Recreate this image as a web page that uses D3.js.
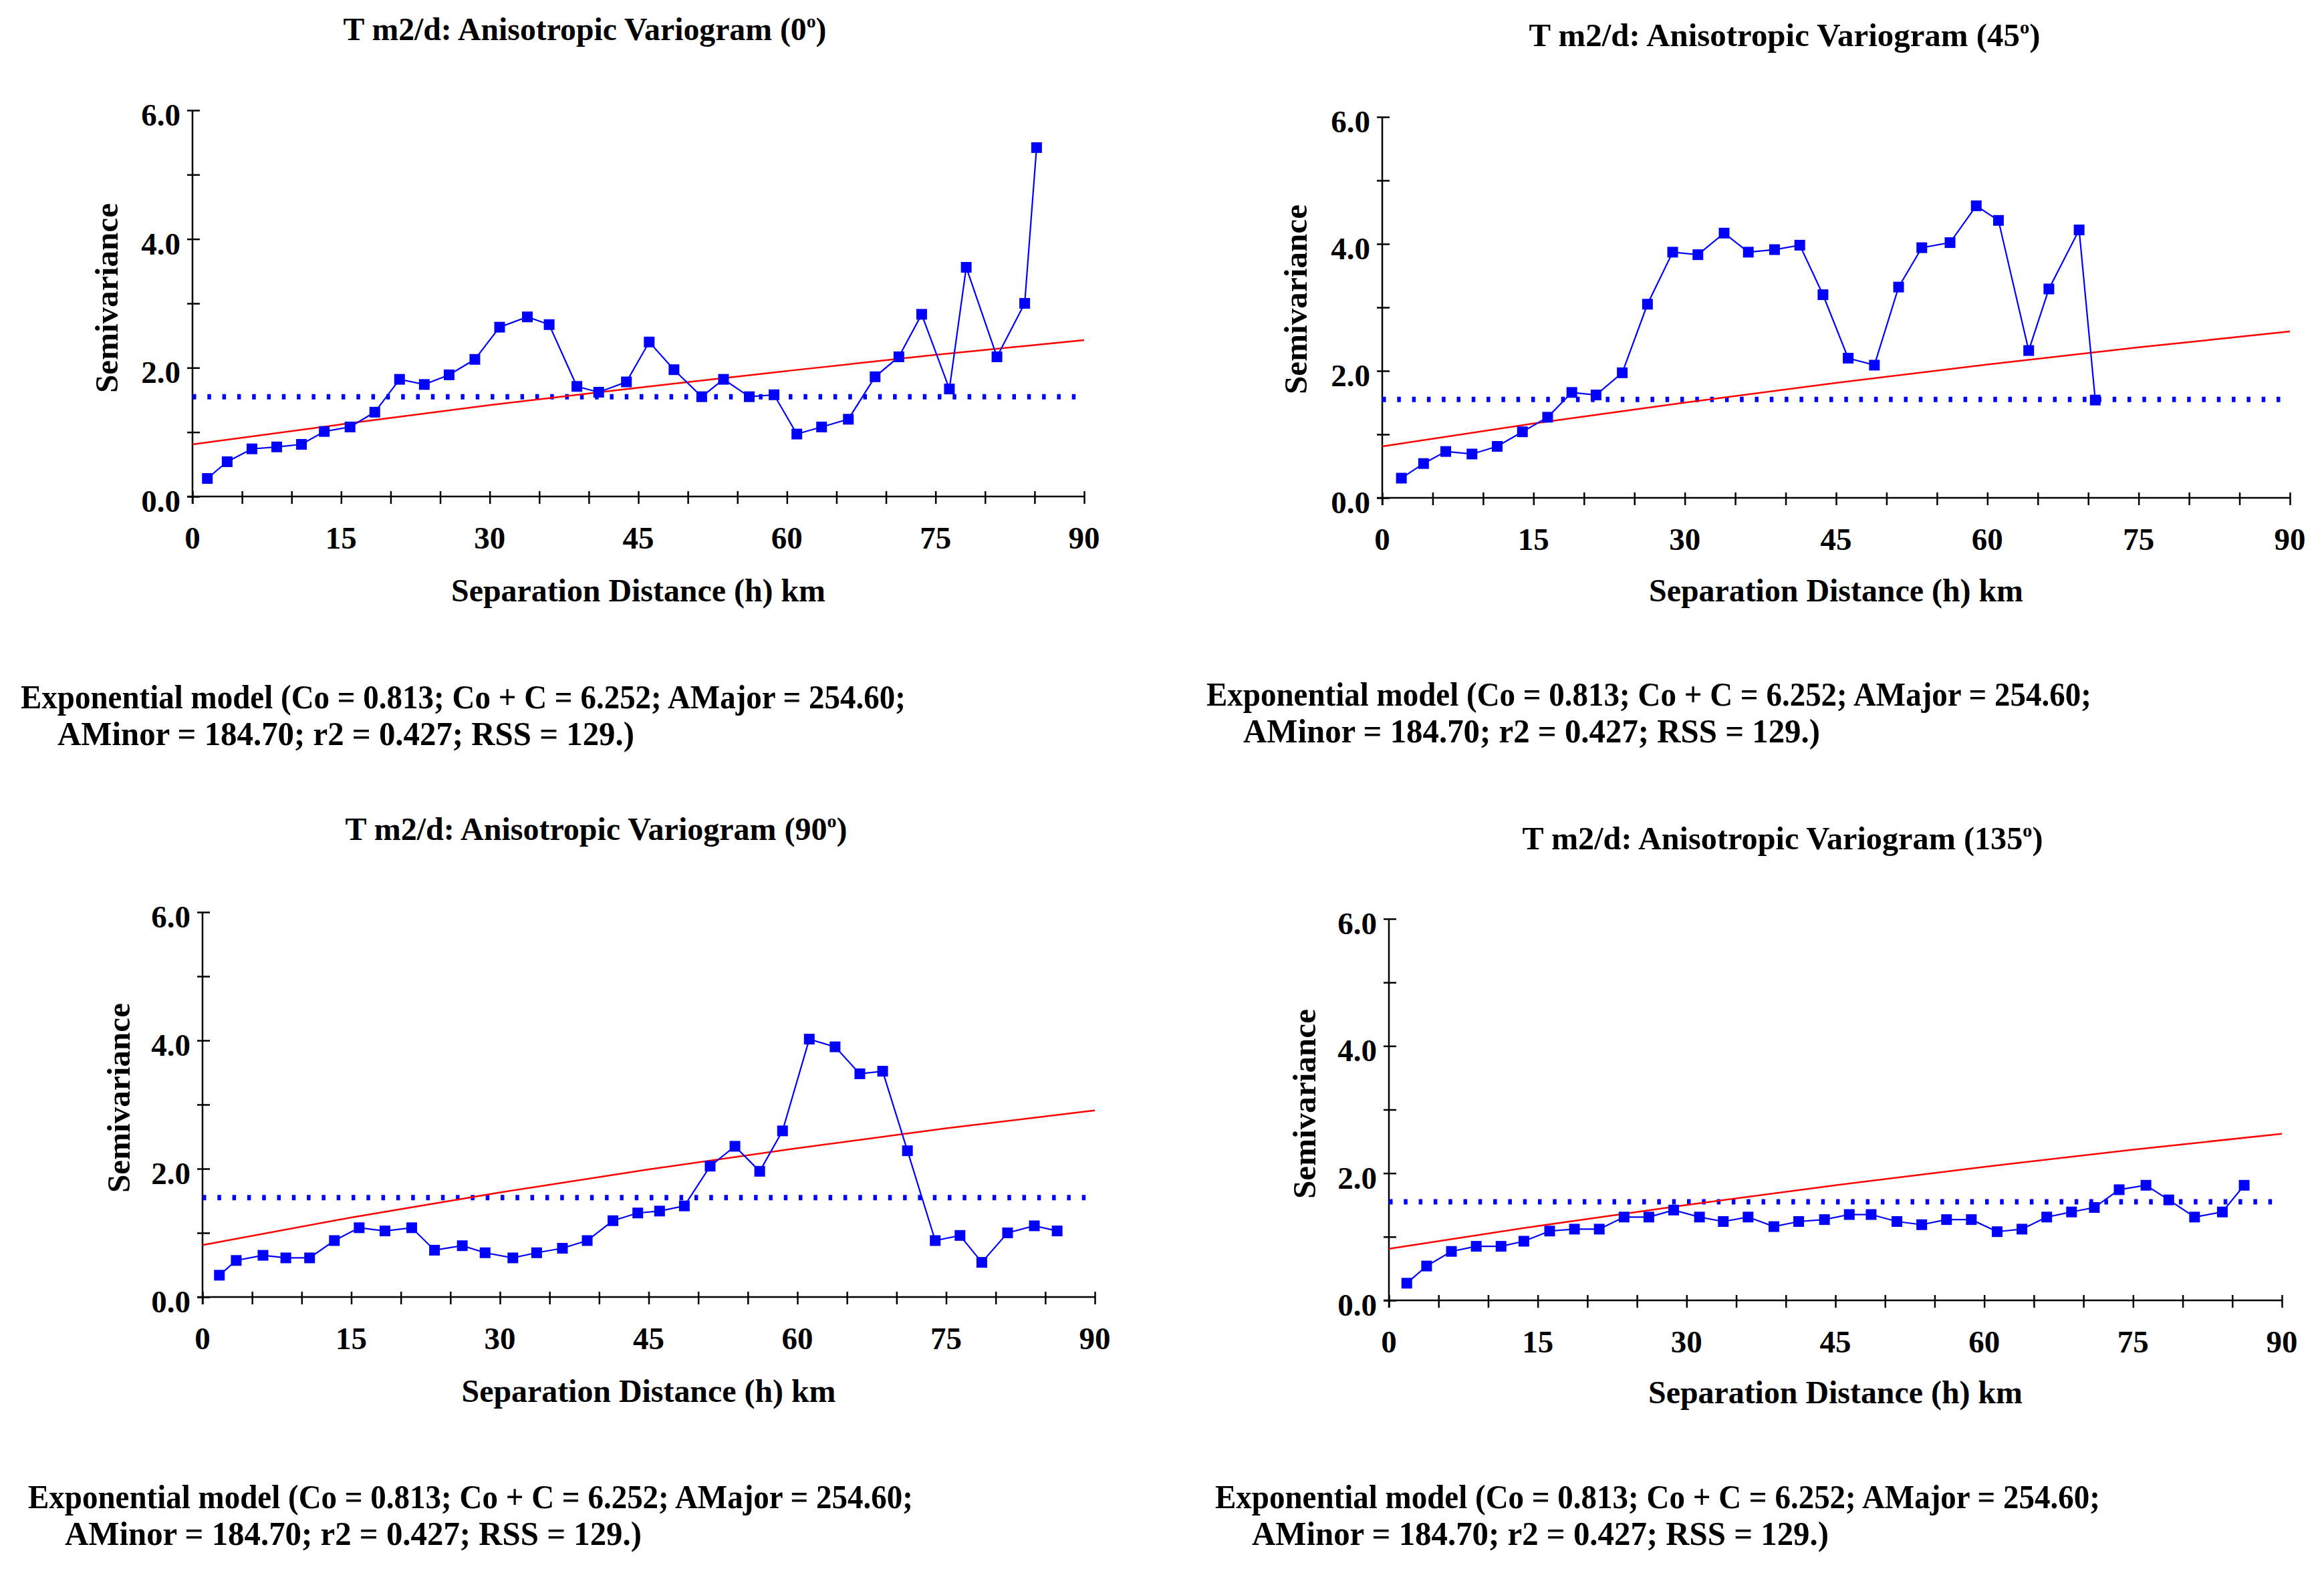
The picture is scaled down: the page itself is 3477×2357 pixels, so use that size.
<!DOCTYPE html>
<html>
<head>
<meta charset="utf-8">
<script src="https://cdn.jsdelivr.net/npm/d3@7"></script>
<style>
  html, body { margin: 0; padding: 0; background: #fff; }
  svg text { font-family: "Liberation Serif", "Times New Roman", serif; font-weight: bold; fill: #000; }
</style>
</head>
<body>
<svg id="chart" width="3477" height="2357"></svg>
<script>
// variogram data (lag km, semivariance)
const lag0 = [1.5, 3.5, 6.0, 8.5, 11.0, 13.3, 15.9, 18.4, 20.9, 23.4, 25.9, 28.5, 31.0, 33.8, 36.0, 38.8, 41.0, 43.8, 46.1, 48.6, 51.4, 53.6, 56.2, 58.7, 61.0, 63.5, 66.2, 68.9, 71.3, 73.6, 76.4, 78.1, 81.2, 84.0, 85.2];
const gamma0 = [0.28, 0.54, 0.74, 0.77, 0.81, 1.01, 1.08, 1.31, 1.82, 1.74, 1.89, 2.13, 2.63, 2.79, 2.67, 1.71, 1.62, 1.78, 2.40, 1.97, 1.55, 1.82, 1.55, 1.58, 0.97, 1.08, 1.20, 1.86, 2.17, 2.83, 1.67, 3.56, 2.17, 3.00, 5.42];

const lag45 = [1.9, 4.1, 6.3, 8.9, 11.4, 13.9, 16.4, 18.8, 21.2, 23.8, 26.3, 28.8, 31.3, 33.9, 36.3, 38.9, 41.4, 43.7, 46.2, 48.8, 51.2, 53.5, 56.3, 58.9, 61.1, 64.1, 66.1, 69.1, 70.7];
const gamma45 = [0.31, 0.54, 0.73, 0.69, 0.81, 1.04, 1.27, 1.66, 1.62, 1.97, 3.05, 3.87, 3.83, 4.17, 3.87, 3.91, 3.98, 3.20, 2.20, 2.09, 3.32, 3.94, 4.02, 4.60, 4.37, 2.32, 3.29, 4.22, 1.54];

const lag90 = [1.7, 3.4, 6.1, 8.4, 10.8, 13.3, 15.8, 18.4, 21.1, 23.4, 26.2, 28.5, 31.3, 33.7, 36.3, 38.8, 41.4, 43.9, 46.1, 48.6, 51.2, 53.7, 56.2, 58.5, 61.2, 63.8, 66.3, 68.6, 71.1, 73.9, 76.4, 78.6, 81.2, 83.9, 86.2];
const gamma90 = [0.34, 0.57, 0.65, 0.61, 0.61, 0.88, 1.08, 1.03, 1.08, 0.73, 0.80, 0.69, 0.61, 0.69, 0.76, 0.88, 1.19, 1.31, 1.34, 1.42, 2.04, 2.35, 1.96, 2.59, 4.02, 3.90, 3.48, 3.52, 2.28, 0.88, 0.96, 0.54, 1.00, 1.11, 1.03];

const lag135 = [1.8, 3.8, 6.3, 8.8, 11.3, 13.6, 16.2, 18.7, 21.2, 23.7, 26.2, 28.7, 31.3, 33.7, 36.2, 38.8, 41.3, 43.9, 46.4, 48.6, 51.2, 53.7, 56.2, 58.7, 61.3, 63.8, 66.3, 68.8, 71.1, 73.6, 76.3, 78.6, 81.2, 84.0, 86.2];
const gamma135 = [0.27, 0.54, 0.77, 0.85, 0.85, 0.93, 1.09, 1.12, 1.12, 1.31, 1.31, 1.42, 1.31, 1.24, 1.31, 1.16, 1.24, 1.27, 1.35, 1.35, 1.24, 1.19, 1.27, 1.27, 1.08, 1.12, 1.31, 1.39, 1.46, 1.74, 1.81, 1.58, 1.31, 1.39, 1.81];

// fitted exponential model (red line), read at these lags
const modelLags = [0, 15, 30, 45, 60, 75, 90];
const model0 = [0.81, 1.12, 1.42, 1.69, 1.95, 2.20, 2.43];
const model45 = [0.81, 1.17, 1.50, 1.81, 2.10, 2.37, 2.62];
const model90 = [0.81, 1.24, 1.63, 1.99, 2.32, 2.63, 2.91];
const model135 = [0.81, 1.17, 1.50, 1.81, 2.10, 2.37, 2.62];

const sampleVariance = 1.55;
const angles = ["0", "45", "90", "135"];
const xTicks = [0, 15, 30, 45, 60, 75, 90];
const yTicks = [0, 2, 4, 6];
const modelText = [
    "Exponential model (Co = 0.813; Co + C = 6.252; AMajor = 254.60;",
    "AMinor = 184.70; r2 = 0.427; RSS = 129.)"
];

const series = [
    { lag: lag0, gamma: gamma0, model: model0 },
    { lag: lag45, gamma: gamma45, model: model45 },
    { lag: lag90, gamma: gamma90, model: model90 },
    { lag: lag135, gamma: gamma135, model: model135 }
];

// panel placement in pixels
const layout = [
    { x0: 288, x1: 1622, y0: 743, y1: 165, titleX: 875, titleY: 60, titleLen: 723,
      yLabX: 176, yLabY: 446, xLabY: 900, mX: 31, mY: 1060 },
    { x0: 2068, x1: 3426, y0: 745, y1: 175, titleX: 2670, titleY: 69, titleLen: 765,
      yLabX: 1955, yLabY: 448, xLabY: 900, mX: 1805, mY: 1056 },
    { x0: 303, x1: 1638, y0: 1941, y1: 1365, titleX: 892, titleY: 1257, titleLen: 751,
      yLabX: 194, yLabY: 1643, xLabY: 2098, mX: 42, mY: 2257 },
    { x0: 2078, x1: 3414, y0: 1946, y1: 1375, titleX: 2667, titleY: 1271, titleLen: 779,
      yLabX: 1968, yLabY: 1652, xLabY: 2100, mX: 1818, mY: 2257 }
];

const svg = d3.select("#chart");

series.forEach((s, i) => drawPanel(s, layout[i], angles[i]));

function drawPanel(s, L, angle) {
    const x = d3.scaleLinear().domain([0, 90]).range([L.x0, L.x1]);
    const y = d3.scaleLinear().domain([0, 6]).range([L.y0, L.y1]);
    const g = svg.append("g");

    // title
    const t = g.append("text")
        .attr("x", L.titleX).attr("y", L.titleY)
        .attr("text-anchor", "middle")
        .attr("font-size", 48)
        .attr("textLength", L.titleLen)
        .attr("lengthAdjust", "spacingAndGlyphs");
    t.append("tspan").text("T m2/d: Anisotropic Variogram (" + angle);
    t.append("tspan").attr("font-size", 28).attr("dy", -19).text("o");
    t.append("tspan").attr("dy", 19).text(")");

    // x axis
    const xAxis = g.append("g")
        .attr("transform", `translate(0,${L.y0})`)
        .call(d3.axisBottom(x).tickValues(d3.range(0, 91, 5)).tickSizeOuter(0).tickFormat(""));
    xAxis.select(".domain").remove();
    xAxis.selectAll(".tick line").attr("y1", -8).attr("y2", 11).attr("stroke", "#000").attr("stroke-width", 2.5);
    g.append("line")
        .attr("x1", L.x0 - 8).attr("x2", L.x1)
        .attr("y1", L.y0).attr("y2", L.y0)
        .attr("stroke", "#000").attr("stroke-width", 2.5);
    g.selectAll(".xlab").data(xTicks).enter().append("text")
        .attr("x", d => x(d)).attr("y", L.y0 + 78)
        .attr("text-anchor", "middle")
        .attr("font-size", 47)
        .text(d => d);

    // y axis
    const yAxis = g.append("g")
        .attr("transform", `translate(${L.x0},0)`)
        .call(d3.axisLeft(y).ticks(6).tickSizeOuter(0).tickFormat(""));
    yAxis.select(".domain").remove();
    yAxis.selectAll(".tick line").attr("x1", -8).attr("x2", 11).attr("stroke", "#000").attr("stroke-width", 2.5);
    g.append("line")
        .attr("x1", L.x0).attr("x2", L.x0)
        .attr("y1", L.y0 + 11).attr("y2", L.y1)
        .attr("stroke", "#000").attr("stroke-width", 2.5);
    g.selectAll(".ylab").data(yTicks).enter().append("text")
        .attr("x", L.x0 - 18).attr("y", d => y(d) + 23)
        .attr("text-anchor", "end")
        .attr("font-size", 47)
        .text(d => d3.format(".1f")(d));

    // axis titles
    g.append("text")
        .attr("transform", `translate(${L.yLabX},${L.yLabY}) rotate(-90)`)
        .attr("text-anchor", "middle")
        .attr("font-size", 48)
        .attr("textLength", 284)
        .attr("lengthAdjust", "spacingAndGlyphs")
        .text("Semivariance");
    g.append("text")
        .attr("x", (L.x0 + L.x1) / 2).attr("y", L.xLabY)
        .attr("text-anchor", "middle")
        .attr("font-size", 48)
        .attr("textLength", 560)
        .attr("lengthAdjust", "spacingAndGlyphs")
        .text("Separation Distance (h) km");

    // sample variance (dotted)
    g.append("line")
        .attr("x1", x(0)).attr("x2", x(90))
        .attr("y1", y(sampleVariance)).attr("y2", y(sampleVariance))
        .attr("stroke", "#0000ff").attr("stroke-width", 8)
        .attr("stroke-dasharray", "5.5 16.8");

    // model curve
    g.append("path")
        .datum(modelLags.map((h, k) => [h, s.model[k]]))
        .attr("fill", "none").attr("stroke", "#ff0000").attr("stroke-width", 2.5)
        .attr("d", d3.line().x(d => x(d[0])).y(d => y(d[1])).curve(d3.curveMonotoneX));

    // experimental variogram
    const pts = s.lag.map((h, k) => [h, s.gamma[k]]);
    g.append("path")
        .datum(pts)
        .attr("fill", "none").attr("stroke", "#0000ff").attr("stroke-width", 2.2)
        .attr("d", d3.line().x(d => x(d[0])).y(d => y(d[1])));
    g.selectAll(".pt").data(pts).enter().append("rect")
        .attr("x", d => x(d[0]) - 8).attr("y", d => y(d[1]) - 8)
        .attr("width", 16).attr("height", 16)
        .attr("fill", "#0000ff");

    // model caption
    g.append("text")
        .attr("x", L.mX).attr("y", L.mY)
        .attr("font-size", 50)
        .attr("textLength", 1324)
        .attr("lengthAdjust", "spacingAndGlyphs")
        .text(modelText[0]);
    g.append("text")
        .attr("x", L.mX + 55).attr("y", L.mY + 55)
        .attr("font-size", 50)
        .attr("textLength", 863)
        .attr("lengthAdjust", "spacingAndGlyphs")
        .text(modelText[1]);
}
</script>
</body>
</html>
